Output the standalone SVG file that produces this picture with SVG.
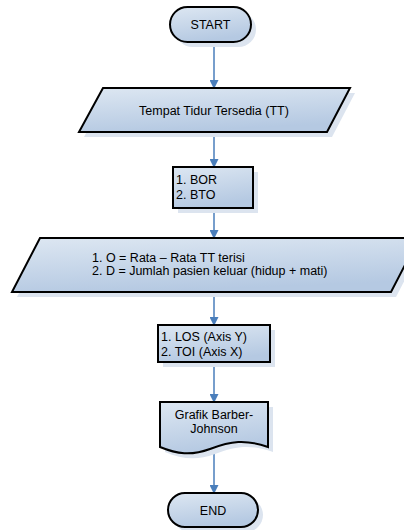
<svg xmlns="http://www.w3.org/2000/svg" width="404" height="530" viewBox="0 0 404 530">
  <defs>
    <linearGradient id="fillGrad" x1="0" y1="0" x2="0.3" y2="1">
      <stop offset="0" stop-color="#dde7f2"/>
      <stop offset="1" stop-color="#b5c9e2"/>
    </linearGradient>
    <marker id="arrow" markerWidth="9" markerHeight="9" refX="8" refY="4.5" orient="auto" markerUnits="userSpaceOnUse">
      <path d="M0,0 L9,4.5 L0,9 z" fill="#4a7ebb"/>
    </marker>
  </defs>
  <style>
    .shape { fill: url(#fillGrad); stroke: #000; stroke-width: 2; stroke-linejoin: miter; }
    .shadow { fill: #dce4ef; stroke: none; }
    .label { font-family: "Liberation Sans", Arial, sans-serif; font-size: 12.5px; fill: #000; }
    .mid { text-anchor: middle; }
    .conn { stroke: #4a7ebb; stroke-width: 1.5; fill: none; marker-end: url(#arrow); }
  </style>
  <rect width="404" height="530" fill="#fff"/>

  <!-- connectors -->
  <g id="connectors">
    <line class="conn" x1="214" y1="43" x2="214" y2="88"/>
    <line class="conn" x1="214" y1="132" x2="214" y2="167"/>
    <line class="conn" x1="214" y1="208" x2="214" y2="238"/>
    <line class="conn" x1="214" y1="292" x2="214" y2="325"/>
    <line class="conn" x1="214" y1="362" x2="214" y2="402"/>
    <line class="conn" x1="214" y1="452" x2="214" y2="493"/>
  </g>

  <g id="start">
    <rect class="shadow" x="175" y="12" width="81" height="35" rx="17.5"/>
    <rect class="shape" x="170" y="7" width="81" height="35" rx="17.5"/>
    <text class="label mid" x="210.5" y="29">START</text>
  </g>

  <g id="tempat-tidur">
    <polygon class="shadow" points="108,93 355,93 332,137 84,137"/>
    <polygon class="shape" points="103,88 350,88 327,132 79,132"/>
    <text class="label mid" x="214" y="115">Tempat Tidur Tersedia (TT)</text>
  </g>

  <g id="bor-bto">
    <rect class="shadow" x="178" y="172" width="80" height="41"/>
    <rect class="shape" x="173" y="167" width="80" height="41"/>
    <text class="label" x="176" y="184">1. BOR</text>
    <text class="label" x="176" y="199">2. BTO</text>
  </g>

  <g id="o-d">
    <polygon class="shadow" points="45,243 424,243 396,297 17,297"/>
    <polygon class="shape" points="40,238 419,238 391,292 12,292"/>
    <text class="label" x="92" y="262">1. O = Rata – Rata TT terisi</text>
    <text class="label" x="92" y="275">2. D = Jumlah pasien keluar (hidup + mati)</text>
  </g>

  <g id="los-toi">
    <rect class="shadow" x="163" y="330" width="112" height="37"/>
    <rect class="shape" x="158" y="325" width="112" height="37" stroke-width="2.5"/>
    <text class="label" x="161" y="341">1. LOS (Axis Y)</text>
    <text class="label" x="161" y="356">2. TOI (Axis X)</text>
  </g>

  <g id="grafik">
    <path class="shadow" d="M165,407 H273 V452 C250,444 236,446 215,454 C196,461 182,459 165,452 Z"/>
    <path class="shape" d="M160,402 H268 V447 C245,439 231,441 210,449 C191,456 177,454 160,447 Z"/>
    <text class="label mid" x="214" y="419">Grafik Barber-</text>
    <text class="label mid" x="214" y="433">Johnson</text>
  </g>

  <g id="end">
    <rect class="shadow" x="173" y="498" width="90" height="34" rx="17"/>
    <rect class="shape" x="168" y="493" width="90" height="34" rx="17"/>
    <text class="label mid" x="213" y="515">END</text>
  </g>
</svg>
